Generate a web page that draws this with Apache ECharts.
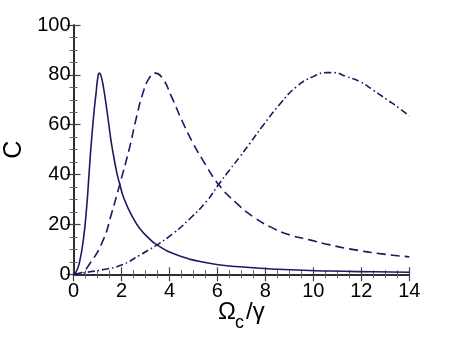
<!DOCTYPE html>
<html><head><meta charset="utf-8">
<script src="https://cdn.jsdelivr.net/npm/echarts@6/dist/echarts.min.js"></script>
<style>html,body{margin:0;padding:0;background:#fff}#c{width:452px;height:340px}</style>
</head><body><div id="c"></div>
<script>
var solidX = [0, 0.1, 0.24, 0.41, 0.55, 0.65, 0.72, 0.85, 0.95, 1.0, 1.075, 1.15, 1.25, 1.41, 1.55, 1.62, 1.8, 1.91, 2.12, 2.49, 2.77, 3.19, 3.42, 4.16, 5.55, 6.94, 8.5, 10.69, 12.5, 14];
var solidC = [0, 0.8, 4.4, 13.8, 27.1, 40.5, 50, 64.6, 73.5, 78, 80.7, 79.5, 75, 64.6, 54.5, 50.3, 41, 36.8, 30, 22.5, 18.3, 14, 12.2, 8.3, 4.6, 3.0, 2.0, 1.3, 1.0, 0.8];
var dashX = [0, 0.27, 0.69, 1.24, 1.59, 1.94, 2.33, 2.63, 2.91, 3.15, 3.4, 3.7, 4.09, 4.51, 4.99, 5.41, 6.05, 6.8, 7.49, 8.19, 9.02, 9.85, 10.69, 11.5, 12.77, 14];
var dashC = [0, 0.4, 4.4, 13.8, 24.5, 36.5, 50.5, 63.2, 73.2, 78.6, 80.7, 78.8, 71.2, 61.9, 52.5, 45.5, 36, 28.5, 23.1, 19.1, 15.8, 13.8, 11.8, 10.2, 8.3, 7.0];
var dotX = [0, 0.69, 1.3, 2.0, 2.77, 3.12, 3.42, 4.16, 4.85, 5.55, 6.05, 6.52, 6.94, 7.35, 7.91, 8.6, 9.3, 9.99, 10.55, 10.83, 11.38, 11.94, 12.49, 13.05, 13.6, 14];
var dotC = [0, 1.0, 2.0, 3.7, 7.7, 9.7, 11.4, 16.4, 22.3, 29.3, 36, 42, 47.2, 52.5, 59.8, 68.2, 75.3, 79.3, 80.9, 80.9, 79.3, 77.3, 73.9, 70.2, 66.5, 63.5];
var xTicks = [0, 2, 4, 6, 8, 10, 12, 14];
var yTicks = [0, 20, 40, 60, 80, 100];

function pairs(xs, ys) { return xs.map(function (x, i) { return [x, ys[i]]; }); }
var col = '#2b1262';
var font = 'Liberation Sans, Arial, sans-serif';
var tickStyle = { show: true, inside: true, length: 7, lineStyle: { color: '#444', width: 1.2 } };
var minorStyle = { show: true, splitNumber: 4, length: 4, lineStyle: { color: '#666', width: 1 } };
var lineAx = { show: true, lineStyle: { color: '#222', width: 1.5 } };

var chart = echarts.init(document.getElementById('c'), null, { renderer: 'canvas' });
chart.setOption({
  animation: false,
  backgroundColor: '#fff',
  grid: { left: 73.5, right: 42.7, top: 25, bottom: 65.7, containLabel: false, outerBoundsMode: 'none' },
  xAxis: [{
    type: 'value', min: xTicks[0], max: xTicks[xTicks.length - 1], interval: 2,
    axisLine: lineAx, axisTick: tickStyle, minorTick: minorStyle, splitLine: { show: false },
    axisLabel: { color: '#000', fontSize: 20, fontFamily: font, margin: 7 }
  }, {
    type: 'value', position: 'top', min: xTicks[0], max: xTicks[xTicks.length - 1], interval: 2,
    axisLine: lineAx, axisTick: tickStyle, minorTick: minorStyle, splitLine: { show: false },
    axisLabel: { show: false }
  }],
  yAxis: [{
    type: 'value', min: yTicks[0], max: yTicks[yTicks.length - 1], interval: 20,
    axisLine: lineAx, axisTick: tickStyle, minorTick: minorStyle, splitLine: { show: false },
    axisLabel: { color: '#000', fontSize: 20, fontFamily: font, margin: 3 },
    name: 'C', nameLocation: 'middle', nameGap: 42, nameRotate: 90,
    nameTextStyle: { fontSize: 25, fontFamily: font, color: '#000' }
  }, {
    type: 'value', position: 'right', min: yTicks[0], max: yTicks[yTicks.length - 1], interval: 20,
    axisLine: lineAx, axisTick: tickStyle, minorTick: minorStyle, splitLine: { show: false },
    axisLabel: { show: false }
  }],
  graphic: [
    { type: 'text', left: 218, top: 300, style: { text: 'Ω', font: '24px ' + font, fill: '#000' } },
    { type: 'text', left: 235, top: 314, style: { text: 'c', font: '18px ' + font, fill: '#000' } },
    { type: 'text', left: 246, top: 300, style: { text: '/γ', font: '24px ' + font, fill: '#000' } }
  ],
  series: [
    { type: 'line', data: pairs(solidX, solidC), smooth: 0.5, showSymbol: false, symbol: 'none',
      lineStyle: { color: col, width: 1.6, type: 'solid' } },
    { type: 'line', data: pairs(dashX, dashC), smooth: 0.5, showSymbol: false, symbol: 'none',
      lineStyle: { color: col, width: 1.6, type: [9, 5] } },
    { type: 'line', data: pairs(dotX, dotC), smooth: 0.5, showSymbol: false, symbol: 'none',
      lineStyle: { color: col, width: 1.6, type: [7, 3, 1.5, 3] } }
  ]
});
</script>
</body></html>
